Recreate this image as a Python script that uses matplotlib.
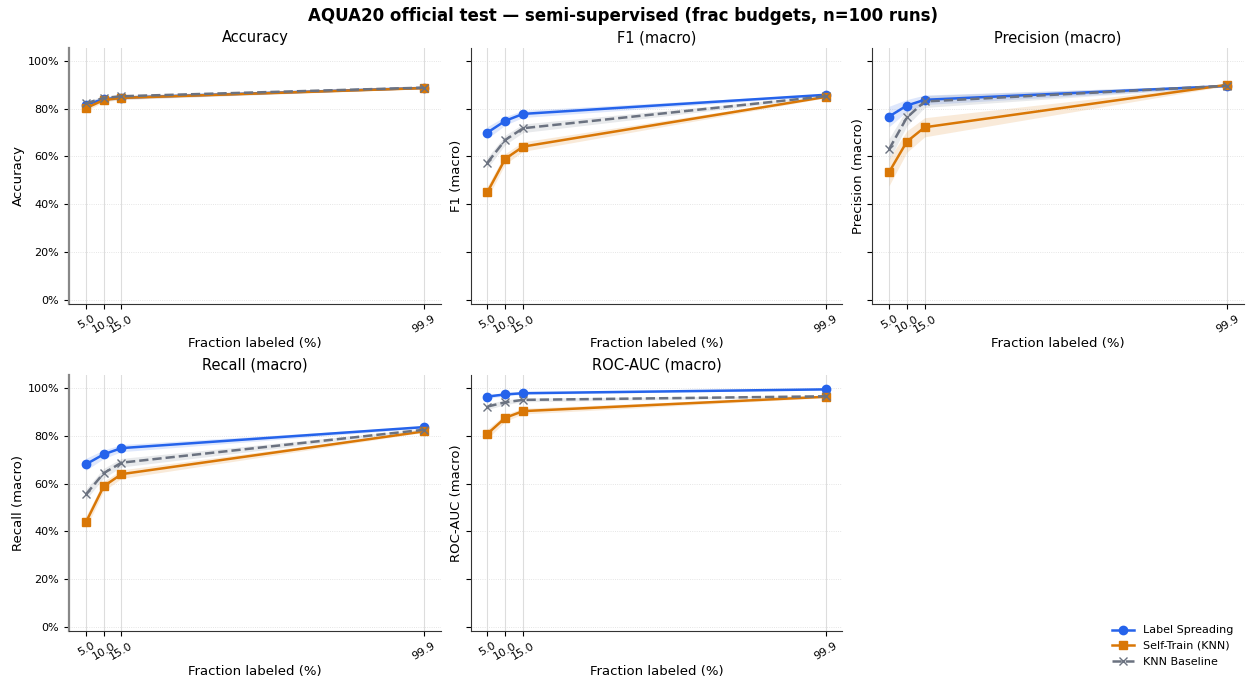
import matplotlib
matplotlib.use("Agg")
import matplotlib.pyplot as plt
from matplotlib.ticker import PercentFormatter
import numpy as np

plt.rcParams['font.family'] = ['DejaVu Sans']

fractions = [5.0, 10.0, 15.0, 99.9]
tick_labels = ["5.0", "10.0", "15.0", "99.9"]
metrics = ["Accuracy", "F1 (macro)", "Precision (macro)", "Recall (macro)", "ROC-AUC (macro)"]
methods = ["Label Spreading", "Self-Train (KNN)", "KNN Baseline"]

# mean values per metric
acc_ls = [0.816, 0.840, 0.846, 0.887]
acc_st = [0.802, 0.836, 0.845, 0.886]
acc_knn = [0.822, 0.845, 0.852, 0.888]

f1_ls = [0.700, 0.749, 0.778, 0.858]
f1_st = [0.451, 0.590, 0.641, 0.849]
f1_knn = [0.574, 0.669, 0.718, 0.852]

prec_ls = [0.767, 0.813, 0.837, 0.895]
prec_st = [0.534, 0.662, 0.722, 0.900]
prec_knn = [0.630, 0.763, 0.830, 0.896]

rec_ls = [0.681, 0.723, 0.749, 0.837]
rec_st = [0.438, 0.589, 0.640, 0.819]
rec_knn = [0.555, 0.644, 0.688, 0.826]

auc_ls = [0.965, 0.974, 0.979, 0.995]
auc_st = [0.809, 0.876, 0.904, 0.964]
auc_knn = [0.923, 0.941, 0.951, 0.966]

# half-widths of shaded bands
acc_ls_sd = [0.012, 0.008, 0.007, 0.003]
acc_st_sd = [0.012, 0.008, 0.007, 0.003]
acc_knn_sd = [0.010, 0.007, 0.006, 0.003]

f1_ls_sd = [0.025, 0.018, 0.015, 0.004]
f1_st_sd = [0.025, 0.022, 0.020, 0.004]
f1_knn_sd = [0.022, 0.020, 0.018, 0.004]

prec_ls_sd = [0.043, 0.025, 0.020, 0.004]
prec_st_sd = [0.057, 0.045, 0.040, 0.004]
prec_knn_sd = [0.045, 0.035, 0.025, 0.004]

rec_ls_sd = [0.025, 0.018, 0.015, 0.004]
rec_st_sd = [0.025, 0.020, 0.018, 0.004]
rec_knn_sd = [0.022, 0.020, 0.018, 0.004]

auc_ls_sd = [0.008, 0.006, 0.005, 0.002]
auc_st_sd = [0.020, 0.015, 0.012, 0.004]
auc_knn_sd = [0.012, 0.010, 0.008, 0.003]

data = [
    ([acc_ls, acc_st, acc_knn], [acc_ls_sd, acc_st_sd, acc_knn_sd]),
    ([f1_ls, f1_st, f1_knn], [f1_ls_sd, f1_st_sd, f1_knn_sd]),
    ([prec_ls, prec_st, prec_knn], [prec_ls_sd, prec_st_sd, prec_knn_sd]),
    ([rec_ls, rec_st, rec_knn], [rec_ls_sd, rec_st_sd, rec_knn_sd]),
    ([auc_ls, auc_st, auc_knn], [auc_ls_sd, auc_st_sd, auc_knn_sd]),
]

colors = ["#2563eb", "#d97706", "#6b7280"]
markers = ["o", "s", "x"]
styles = ["-", "-", "--"]

fig, axes = plt.subplots(2, 3, figsize=(12.47, 6.82), dpi=100, sharey=True)
fig.subplots_adjust(left=0.0553, right=0.9976, top=0.9296, bottom=0.0748,
                    wspace=0.08, hspace=0.28)
axes = axes.ravel()

x = np.array(fractions)
handles = []
for i, (name, (means, sds)) in enumerate(zip(metrics, data)):
    ax = axes[i]
    for j in range(3):
        m = np.array(means[j]); s = np.array(sds[j])
        ax.fill_between(x, m - s, m + s, color=colors[j], alpha=0.15, linewidth=0)
        h, = ax.plot(x, m, linestyle=styles[j], marker=markers[j], color=colors[j],
                     linewidth=1.8, markersize=6, label=methods[j])
        if i == 0:
            handles.append(h)
    ax.set_title(name, fontsize=10.5, pad=4)
    ax.set_ylabel(name, fontsize=9.5, labelpad=2)
    ax.set_xlabel("Fraction labeled (%)", fontsize=9.5, labelpad=2)
    ax.set_xticks(fractions)
    ax.set_xticklabels(tick_labels, rotation=30, fontsize=8)
    ax.set_yticks([0, 0.2, 0.4, 0.6, 0.8, 1.0])
    ax.yaxis.set_major_formatter(PercentFormatter(1.0, decimals=0))
    ax.tick_params(axis='y', labelsize=8)
    ax.set_ylim(-0.017, 1.054)
    ax.grid(axis='x', color='#dddddd', linewidth=0.8, linestyle='-')
    ax.grid(axis='y', color='#dddddd', linewidth=0.6, linestyle=':')
    ax.set_axisbelow(True)
    for sp in ["top", "right"]:
        ax.spines[sp].set_visible(False)
    ax.spines['left'].set_color('#333333')
    ax.spines['bottom'].set_color('#333333')
    if i % 3 == 0:
        ax.spines['left'].set_color('#888888')
        ax.spines['left'].set_linewidth(1.6)

axes[5].axis('off')
fig.legend(handles=handles, labels=methods, loc='lower right',
           bbox_to_anchor=(0.997, 0.008), frameon=False, fontsize=8)
fig.suptitle("AQUA20 official test — semi-supervised (frac budgets, n=100 runs)",
             fontsize=12, fontweight='bold', y=0.99)
fig.savefig("out.png", dpi=100)
